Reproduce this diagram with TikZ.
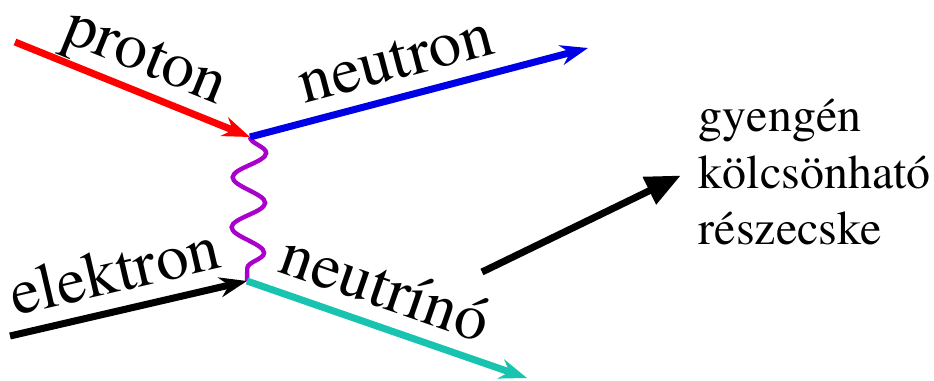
\documentclass[tikz,border=0pt]{standalone}
\usepackage[T1]{fontenc}
\usepackage{times}
\usepackage{xcolor}
\usetikzlibrary{arrows.meta,decorations.pathmorphing}

\definecolor{protonred}{RGB}{255,0,0}
\definecolor{neutronblue}{RGB}{0,0,230}
\definecolor{bosonpurple}{RGB}{170,0,204}
\definecolor{nuteal}{RGB}{24,196,176}

\begin{document}
\begin{tikzpicture}[
  x=0.02cm, y=-0.02cm,
  particle/.style={line width=4pt, -{Stealth[length=5.5mm, width=4mm, inset=1.8mm]}},
  lbl/.style={font=\fontsize{37}{40}\selectfont, sloped, above, inner sep=1.5pt, text depth=7pt},
  boson/.style={line width=2.5pt, bosonpurple, decorate,
    decoration={snake, segment length=1cm, amplitude=0.33cm}},
  pointer/.style={line width=4pt, -{Triangle[length=7mm, width=5.8mm]}, shorten >=0.16cm}
]
\useasboundingbox (0,0) rectangle (934,380);

\coordinate (pin) at (15,42);
\coordinate (vtop) at (250,137);
\coordinate (nout) at (588,48);
\coordinate (ein) at (10,336);
\coordinate (vbot) at (247,281);
\coordinate (nuout) at (527,378);
\coordinate (tail) at (482,272);

\node[anchor=west, align=left, inner sep=6pt, font=\fontsize{27.3}{32}\selectfont] (weak) at (688,172)
  {gyengén\\kölcsönható\\részecske};

\draw[boson] (vtop) -- (vbot);
\draw[particle, protonred] (pin) -- node[lbl, pos=0.5, black] {proton} (vtop);
\draw[particle, neutronblue] (vtop) -- node[lbl, pos=0.46, black] {neutron} (nout);
\draw[particle, black] (ein) -- node[lbl, pos=0.48] {elektron} (vbot);
\draw[particle, nuteal] (vbot) -- node[lbl, pos=0.45, black] {neutrínó} (nuout);
\draw[pointer] (tail) -- (weak.west);
\end{tikzpicture}
\end{document}
